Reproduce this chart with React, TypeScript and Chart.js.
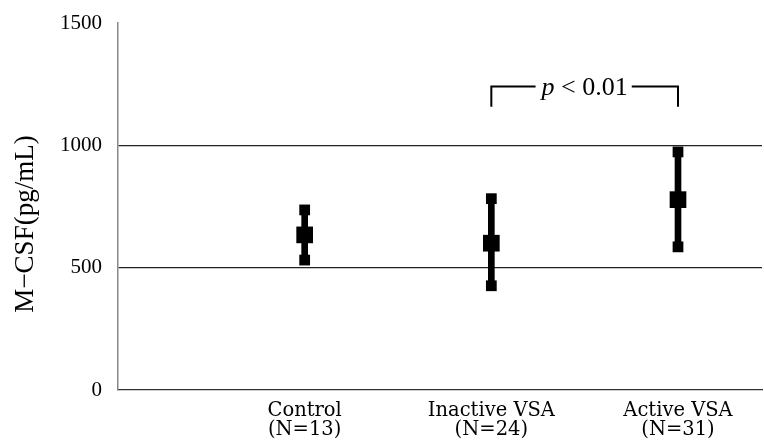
import React, { useEffect, useRef } from 'react';
import { Chart, registerables } from 'chart.js';

Chart.register(...registerables);

// ---- data ----
const groups = ['Control', 'Inactive VSA', 'Active VSA'];
const groupN = ['(N=13)', '(N=24)', '(N=31)'];
const groupPos = [1, 2, 3];
const lowValues = [531, 426, 585];
const meanValues = [634, 600, 778];
const highValues = [736, 782, 973];
const gridValues = [500, 1000];
const yMin = 0;
const yMax = 1500;
const yStep = 500;
const yTitle = 'M\u2212CSF(pg/mL)';
const pItalic = 'p';
const pRest = ' < 0.01';
const bracketFrom = 2;
const bracketTo = 3;
const bracketTop = 1240;
const bracketBottom = 1158;

const annotPlugin = {
  id: 'annot',
  afterDraw(chart: any) {
    const ctx = chart.ctx;
    const xs = chart.scales.x;
    const ys = chart.scales.y;
    const x1 = xs.getPixelForValue(bracketFrom);
    const x2 = xs.getPixelForValue(bracketTo);
    const yt = ys.getPixelForValue(bracketTop);
    const yb = ys.getPixelForValue(bracketBottom);
    ctx.save();
    ctx.font = 'italic 26px "Liberation Serif"';
    const pw = ctx.measureText(pItalic).width;
    ctx.font = '26px "Liberation Serif"';
    const rw = ctx.measureText(pRest).width;
    const total = pw + rw;
    const tx = (x1 + x2) / 2 - total / 2;
    ctx.strokeStyle = '#000';
    ctx.lineWidth = 2;
    ctx.beginPath();
    ctx.moveTo(x1, yb);
    ctx.lineTo(x1, yt);
    ctx.lineTo(tx - 6, yt);
    ctx.moveTo(tx + total + 4, yt);
    ctx.lineTo(x2, yt);
    ctx.lineTo(x2, yb);
    ctx.stroke();
    ctx.fillStyle = '#000';
    ctx.textBaseline = 'alphabetic';
    ctx.textAlign = 'left';
    ctx.font = 'italic 26px "Liberation Serif"';
    ctx.fillText(pItalic, tx, yt + 8);
    ctx.font = '26px "Liberation Serif"';
    ctx.fillText(pRest, tx + pw, yt + 8);

    // y axis title
    ctx.translate(33, 224);
    ctx.rotate(-Math.PI / 2);
    ctx.font = '27px "Liberation Serif"';
    ctx.textAlign = 'center';
    ctx.fillText(yTitle, 0, 0);
    ctx.restore();
  },
};

export default function App() {
  const ref = useRef<HTMLCanvasElement | null>(null);
  useEffect(() => {
    if (!ref.current) return;
    const chart = new Chart(ref.current, {
      type: 'bar',
      data: {
        datasets: [
          {
            type: 'bar',
            data: groupPos.map((p, i) => ({ x: p, y: [lowValues[i], highValues[i]] })) as any,
            backgroundColor: '#000',
            barThickness: 6,
            grouped: false,
            order: 3,
          } as any,
          {
            type: 'scatter',
            data: groupPos.flatMap((p, i) => [
              { x: p, y: lowValues[i] },
              { x: p, y: highValues[i] },
            ]),
            pointStyle: 'rect',
            pointRadius: 7.6,
            backgroundColor: '#000',
            borderWidth: 0,
            order: 2,
          } as any,
          {
            type: 'scatter',
            data: groupPos.map((p, i) => ({ x: p, y: meanValues[i] })),
            pointStyle: 'rect',
            pointRadius: 11.8,
            backgroundColor: '#000',
            borderWidth: 0,
            order: 1,
          } as any,
        ],
      },
      options: {
        responsive: false,
        animation: false,
        events: [],
        layout: { autoPadding: false, padding: { top: 23, right: 2, left: 0, bottom: 0 } },
        plugins: { legend: { display: false }, tooltip: { enabled: false } },
        scales: {
          x: {
            type: 'linear',
            min: 0,
            max: 3.45,
            offset: false,
            grid: { display: false, drawTicks: false, offset: false },
            border: { display: true, color: '#333', width: 1.2 },
            afterBuildTicks: (s: any) => {
              s.ticks = groupPos.map((v) => ({ value: v }));
            },
            afterFit: (s: any) => {
              s.height = 54;
              s.paddingLeft = 0;
              s.paddingRight = 0;
            },
            ticks: {
              autoSkip: false,
              maxRotation: 0,
              minRotation: 0,
              padding: 11.5,
              color: '#000',
              font: { family: '"DejaVu Serif"', size: 19.5, lineHeight: 0.97 },
              callback: (v: any) => {
                const i = groupPos.indexOf(Number(v));
                return i < 0 ? '' : [groups[i], groupN[i]];
              },
            },
          },
          y: {
            type: 'linear',
            min: yMin,
            max: yMax,
            grid: {
              drawTicks: false,
              lineWidth: 1.2,
              color: (c: any) =>
                gridValues.includes(c.tick?.value) ? '#222' : 'rgba(0,0,0,0)',
            },
            border: { display: true, color: '#888', width: 1.5 },
            afterFit: (s: any) => {
              s.width = 118;
              s.paddingTop = 0;
              s.paddingBottom = 0;
            },
            ticks: {
              stepSize: yStep,
              padding: 16,
              color: '#000',
              font: { family: '"Liberation Serif"', size: 21 },
              callback: (v: any) => String(v),
            },
          },
        },
      },
      plugins: [annotPlugin],
    } as any);
    return () => chart.destroy();
  }, []);
  return (
    <div style={{ position: 'absolute', left: 0, top: 0, width: 764, height: 444, background: '#fff' }}>
      <canvas ref={ref} width={764} height={444} style={{ display: 'block' }} />
    </div>
  );
}
